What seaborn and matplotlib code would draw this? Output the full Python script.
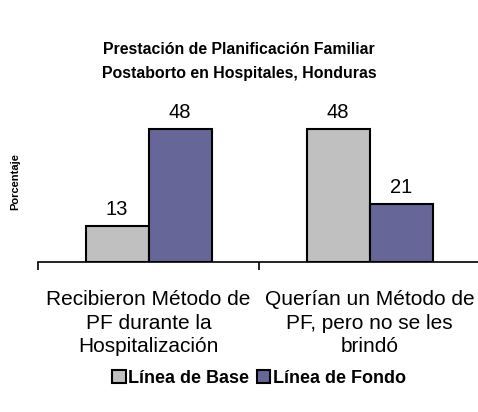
import matplotlib.pyplot as plt
import seaborn as sns
import pandas as pd

# Data
categories = ["Recibieron Método de\nPF durante la\nHospitalización",
              "Querían un Método de\nPF, pero no se les\nbrindó"]
series = ["Línea de Base", "Línea de Fondo"]
linea_base = [13, 48]
linea_fondo = [48, 21]
colors = ["#C0C0C0", "#666699"]

df = pd.DataFrame({
    "Categoria": categories * 2,
    "Serie": [series[0]] * 2 + [series[1]] * 2,
    "Porcentaje": linea_base + linea_fondo,
})

sns.set_theme(style="white")
plt.rcParams['font.family'] = ['Liberation Sans', 'DejaVu Sans']
plt.rcParams['text.color'] = 'black'
plt.rcParams['xtick.color'] = 'black'
plt.rcParams['axes.labelcolor'] = 'black'

fig = plt.figure(figsize=(4.78, 4.12), dpi=100)
ax = fig.add_axes([0.0795, 0.364, 0.925, 0.39])

sns.barplot(data=df, x="Categoria", y="Porcentaje", hue="Serie",
            palette=colors, width=0.57, edgecolor="black", linewidth=1.5,
            ax=ax, saturation=1)

for cont in ax.containers:
    ax.bar_label(cont, fontsize=14.5, padding=5, color="black")

ax.set_ylim(0, 58)
ax.set_xlim(-0.5, 1.5)
ax.set_yticks([])
for s in ["top", "right", "left"]:
    ax.spines[s].set_visible(False)
ax.spines["bottom"].set_color("black")
ax.spines["bottom"].set_linewidth(1.2)

# category boundary ticks
ax.set_xticks([-0.5, 0.5, 1.5], minor=True)
ax.tick_params(axis="x", which="minor", length=6, width=1.2, color="black",
               direction="out", bottom=True)
ax.tick_params(axis="x", which="major", length=0, labelsize=15, pad=20)
for lbl in ax.get_xticklabels():
    lbl.set_linespacing(1.32)

ax.set_xlabel("")
ax.set_ylabel("Porcentaje", fontsize=8, fontweight="bold", labelpad=13)

fig.suptitle("Prestación de Planificación Familiar\nPostaborto en Hospitales, Honduras",
             fontsize=11.4, fontweight="bold", x=0.5, y=0.898, linespacing=1.75)

ax.legend(loc="center", bbox_to_anchor=(0.5, -0.725), ncol=2, frameon=False,
          prop={"weight": "bold", "size": 13}, handlelength=0.75, handleheight=0.75,
          handletextpad=0.15, columnspacing=0.4)

plt.savefig("out.png", dpi=100)
plt.close()
